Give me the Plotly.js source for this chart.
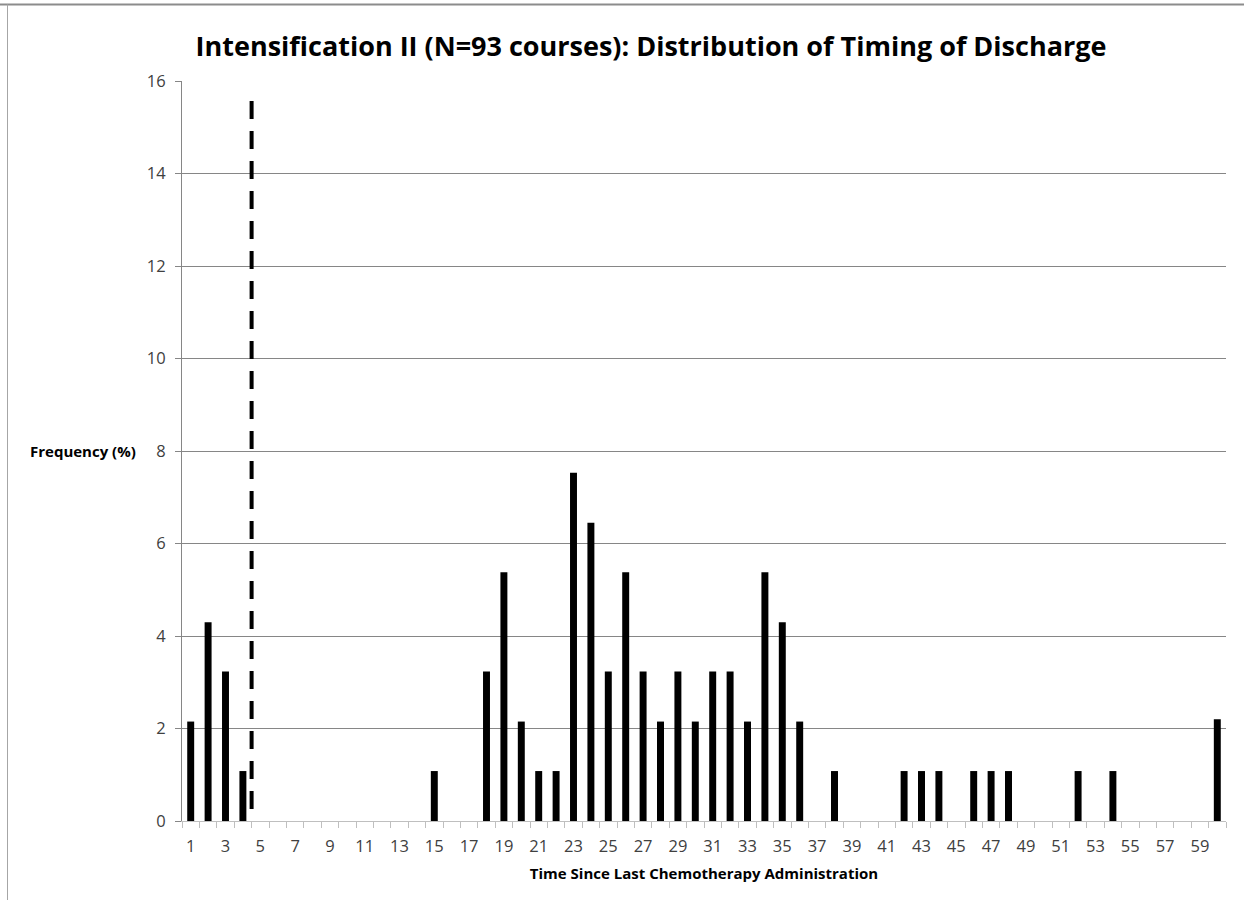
<!DOCTYPE html>
<html>
<head>
<meta charset="utf-8">
<script src="https://cdn.plot.ly/plotly-3.0.1.min.js"></script>
<style>
  html, body { margin: 0; padding: 0; background: #fff; }
  #chart { width: 1244px; height: 903px; }
</style>
</head>
<body>
<div id="chart"></div>
<script>
// Days since last chemotherapy administration (1..60)
const days = [];
for (let d = 1; d <= 60; d++) days.push(d);

// Frequency (%) per day
const frequency = [
  2.15, 4.30, 3.23, 1.08, 0, 0, 0, 0, 0, 0,
  0, 0, 0, 0, 1.08, 0, 0, 3.23, 5.38, 2.15,
  1.08, 1.08, 7.53, 6.45, 3.23, 5.38, 3.23, 2.15, 3.23, 2.15,
  3.23, 3.23, 2.15, 5.38, 4.30, 2.15, 0, 1.08, 0, 0,
  0, 1.08, 1.08, 1.08, 0, 1.08, 1.08, 1.08, 0, 0,
  0, 1.08, 0, 1.08, 0, 0, 0, 0, 0, 2.2
];

// Labelled ticks (odd days) and tick marks at category boundaries
const tickLabels = [];
for (let d = 1; d <= 59; d += 2) tickLabels.push(d);
const boundaries = [];
for (let b = 0.5; b <= 60.5; b += 1) boundaries.push(b);

// Cut-off marker (dashed vertical line), drawn from the top down
const cutoffX = [4.5, 4.5];
const cutoffY = [15.57, 0];

const W = 1244, H = 903;
const M = { l: 182, r: 18, t: 81, b: 82 };
const pw = W - M.l - M.r, ph = H - M.t - M.b;
const px = x => (x - M.l) / pw;
const py = y => (H - M.b - y) / ph;

const tickFont = { family: 'Open Sans, sans-serif', size: 16.5, color: '#404040' };

const data = [
  {
    type: 'bar',
    x: days,
    y: frequency,
    width: 0.4,
    marker: { color: '#000000', line: { width: 0 } },
    hoverinfo: 'x+y',
    showlegend: false
  },
  {
    type: 'scatter',
    mode: 'lines',
    x: cutoffX,
    y: cutoffY,
    xaxis: 'x2',
    line: { color: '#000000', width: 4, dash: '18px,12px' },
    hoverinfo: 'skip',
    showlegend: false
  }
];

const layout = {
  width: W,
  height: H,
  margin: M,
  paper_bgcolor: '#ffffff',
  plot_bgcolor: '#ffffff',
  bargap: 0.6,
  title: {
    text: '<b>Intensification II (N=93 courses): Distribution of Timing of Discharge</b>',
    font: { family: 'Open Sans, sans-serif', size: 27, color: '#000000' },
    x: (651) / W, xanchor: 'center', xref: 'container',
    y: 1 - 47 / H, yanchor: 'middle', yref: 'container'
  },
  xaxis: {
    range: [0.5, 60.5],
    tickmode: 'array',
    tickvals: tickLabels,
    ticktext: tickLabels.map(String),
    ticks: '',
    showgrid: false,
    zeroline: false,
    showline: true,
    linecolor: '#bfbfbf',
    linewidth: 1,
    tickfont: tickFont,
    ticklabelstandoff: 10,
    title: {
      text: '<b>Time Since Last Chemotherapy Administration</b>',
      font: { family: 'Open Sans, sans-serif', size: 15, color: '#000000' },
      standoff: 12
    },
    fixedrange: true
  },
  xaxis2: {
    overlaying: 'x',
    anchor: 'y',
    side: 'bottom',
    range: [0.5, 60.5],
    tickmode: 'array',
    tickvals: boundaries,
    ticks: 'outside',
    ticklen: 6,
    tickcolor: '#bfbfbf',
    showticklabels: false,
    showgrid: false,
    zeroline: false,
    showline: false,
    fixedrange: true
  },
  yaxis: {
    range: [0, 16],
    dtick: 2,
    tick0: 0,
    ticks: 'outside',
    ticklen: 6,
    tickcolor: '#868686',
    showgrid: true,
    gridcolor: '#868686',
    gridwidth: 1,
    zeroline: false,
    showline: true,
    linecolor: '#868686',
    linewidth: 1,
    tickfont: tickFont,
    ticklabelstandoff: 6,
    fixedrange: true
  },
  annotations: [
    {
      text: '<b>Frequency (%)</b>',
      xref: 'paper', yref: 'y',
      x: px(138), y: 8,
      xanchor: 'right', yanchor: 'middle',
      showarrow: false,
      font: { family: 'Open Sans, sans-serif', size: 15, color: '#000000' }
    }
  ],
  shapes: [
    { type: 'line', xref: 'paper', yref: 'paper',
      x0: px(0), x1: px(W), y0: py(4.5), y1: py(4.5),
      line: { color: '#8c8c8c', width: 2 } },
    { type: 'line', xref: 'paper', yref: 'paper',
      x0: px(7.5), x1: px(7.5), y0: py(4.5), y1: py(900),
      line: { color: '#a6a6a6', width: 1 } }
  ]
};

Plotly.newPlot('chart', data, layout, { displayModeBar: false, staticPlot: true });
</script>
</body>
</html>
